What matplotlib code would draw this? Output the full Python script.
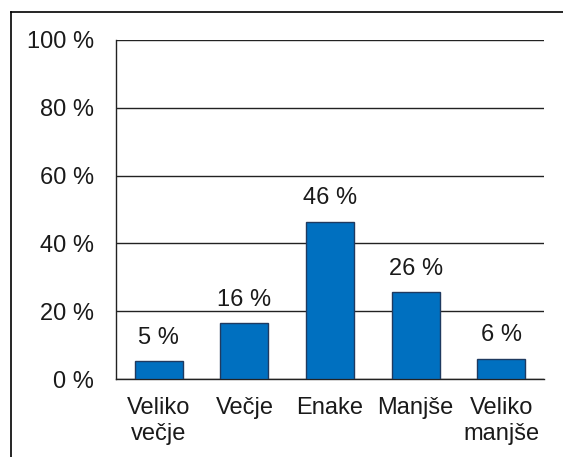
import matplotlib.pyplot as plt
from matplotlib.lines import Line2D
import numpy as np

categories = ["Veliko\nvečje", "Večje", "Enake", "Manjše", "Veliko\nmanjše"]
values = [5.2, 16.4, 46.4, 25.6, 5.9]
value_labels = ["5 %", "16 %", "46 %", "26 %", "6 %"]
y_ticks = [0, 20, 40, 60, 80, 100]

plt.rcParams["font.family"] = ["Liberation Sans", "DejaVu Sans"]
FS = 17

fig = plt.figure(figsize=(5.63, 4.57), dpi=100)
ax = fig.add_axes([116 / 563, 1 - 379 / 457, 428 / 563, 339 / 457])

x = np.arange(len(categories))
bars = ax.bar(x, values, width=0.56, color="#0070C0", edgecolor="#1F3A60", linewidth=1.0, zorder=3)
for bar, label in zip(bars, value_labels):
    ax.annotate(label, (bar.get_x() + bar.get_width() / 2, bar.get_height()),
                xytext=(0, 9), textcoords="offset points", ha="center", va="bottom",
                fontsize=FS, color="#1a1a1a")

ax.set_xlim(-0.5, len(categories) - 0.5)
ax.set_ylim(0, 100)
ax.set_yticks(y_ticks, labels=[f"{t} %" for t in y_ticks])
ax.set_xticks(x, labels=categories)
ax.tick_params(axis="y", length=0, pad=16, labelsize=FS, labelcolor="#1a1a1a")
ax.tick_params(axis="x", length=0, pad=13, labelsize=FS, labelcolor="#1a1a1a")
for lbl in ax.get_xticklabels():
    lbl.set_linespacing(1.25)

ax.grid(axis="y", color="#222222", linewidth=1.0, zorder=0)
for side in ["top", "right"]:
    ax.spines[side].set_visible(False)
for side in ["left", "bottom"]:
    ax.spines[side].set_color("#222222")
    ax.spines[side].set_linewidth(1.0)

# outer frame, cut off at the right and bottom edges
fig.add_artist(Line2D([11 / 563, 11 / 563], [0, 1 - 12 / 457], color="black", linewidth=1.2))
fig.add_artist(Line2D([11 / 563, 1], [1 - 12 / 457, 1 - 12 / 457], color="black", linewidth=1.2))

fig.savefig("out.png", dpi=100)
